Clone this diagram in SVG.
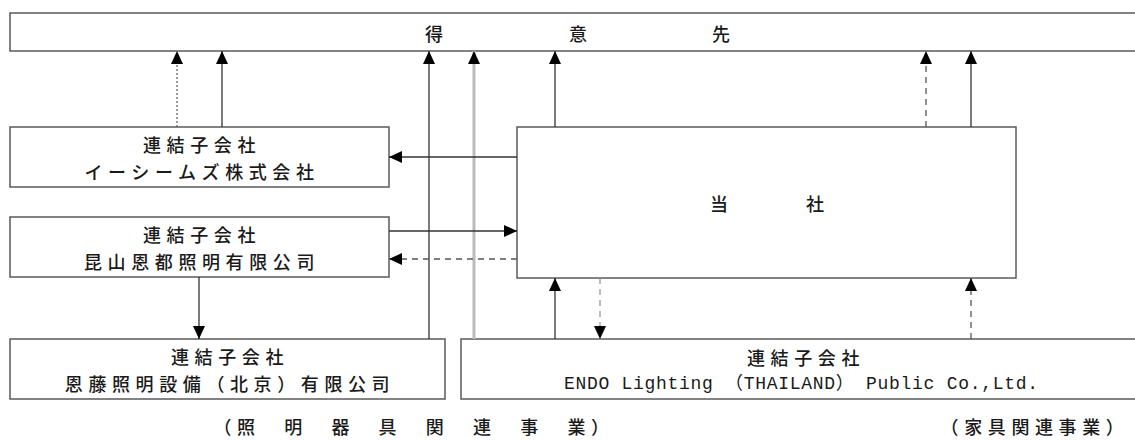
<svg xmlns="http://www.w3.org/2000/svg" width="1135" height="441" viewBox="0 0 1135 441">
<style>
.box{fill:#fff;stroke:#5a5a5a;stroke-width:1.5}
.t{font-family:"Noto Sans CJK JP","Noto Sans",sans-serif;font-size:18px;font-weight:500;fill:#1a1a1a;letter-spacing:5.6px;text-anchor:middle;dominant-baseline:central}
.m{font-family:"Liberation Mono","Noto Sans CJK JP",monospace;font-size:18px;fill:#1a1a1a;text-anchor:middle;dominant-baseline:central}
.c line{stroke:#333;stroke-width:1.3;fill:none}
.c .dot{stroke-dasharray:2 2;stroke:#666}
.c .dash{stroke-dasharray:6 5;stroke:#555}
.c .lt{stroke:#999}
.c .gray{stroke:#bbb;stroke-width:3}
</style>
<defs>
<marker id="ah" markerWidth="13" markerHeight="12" refX="13" refY="6" orient="auto" markerUnits="userSpaceOnUse">
<path d="M0,0 L13,6 L0,12 Z" fill="#000"/>
</marker>
</defs>

<g id="customer">
<rect class="box" x="10" y="13" width="1135" height="38"/>
<text class="t" y="33" style="letter-spacing:0"><tspan x="434">得</tspan><tspan x="578">意</tspan><tspan x="721">先</tspan></text>
</g>

<g id="ecims">
<rect class="box" x="10" y="127" width="379" height="60"/>
<text class="t" x="202" y="144">連結子会社</text>
<text class="t" x="202" y="171">イーシームズ株式会社</text>
</g>

<g id="kunshan">
<rect class="box" x="10" y="217" width="379" height="60"/>
<text class="t" x="202" y="234">連結子会社</text>
<text class="t" x="202" y="261">昆山恩都照明有限公司</text>
</g>

<g id="beijing">
<rect class="box" x="10" y="339" width="435" height="60"/>
<text class="t" x="230" y="356">連結子会社</text>
<text class="t" x="230" y="383">恩藤照明設備（北京）有限公司</text>
</g>

<g id="company">
<rect class="box" x="517" y="127" width="499" height="151"/>
<text class="t" y="203" style="letter-spacing:0"><tspan x="719">当</tspan><tspan x="815">社</tspan></text>
</g>

<g id="thailand">
<rect class="box" x="461" y="339" width="684" height="60"/>
<text class="t" x="806" y="357">連結子会社</text>
<text class="m" x="801" y="384" textLength="474" lengthAdjust="spacing">ENDO Lighting （THAILAND） Public Co.,Ltd.</text>
</g>

<g id="labels">
<text class="t" x="414" y="426">（照　明　器　具　関　連　事　業）</text>
<text class="t" x="1035" y="426">（家具関連事業）</text>
</g>

<g id="connectors" class="c">
<line class="dot" x1="177" y1="127" x2="177" y2="51" marker-end="url(#ah)"/>
<line x1="222" y1="127" x2="222" y2="51" marker-end="url(#ah)"/>
<line x1="429" y1="339" x2="429" y2="51" marker-end="url(#ah)"/>
<line class="gray" x1="474" y1="339" x2="474" y2="51" marker-end="url(#ah)"/>
<line x1="555" y1="127" x2="555" y2="51" marker-end="url(#ah)"/>
<line class="dash" x1="926" y1="127" x2="926" y2="51" marker-end="url(#ah)"/>
<line x1="971" y1="127" x2="971" y2="51" marker-end="url(#ah)"/>
<line x1="517" y1="157" x2="389" y2="157" marker-end="url(#ah)"/>
<line x1="389" y1="231" x2="517" y2="231" marker-end="url(#ah)"/>
<line class="dash" x1="517" y1="259" x2="389" y2="259" marker-end="url(#ah)"/>
<line x1="199" y1="277" x2="199" y2="339" marker-end="url(#ah)"/>
<line x1="555" y1="339" x2="555" y2="278" marker-end="url(#ah)"/>
<line class="dash lt" x1="600" y1="278" x2="600" y2="339" marker-end="url(#ah)"/>
<line class="dash" x1="971" y1="339" x2="971" y2="278" marker-end="url(#ah)"/>
</g>
</svg>
